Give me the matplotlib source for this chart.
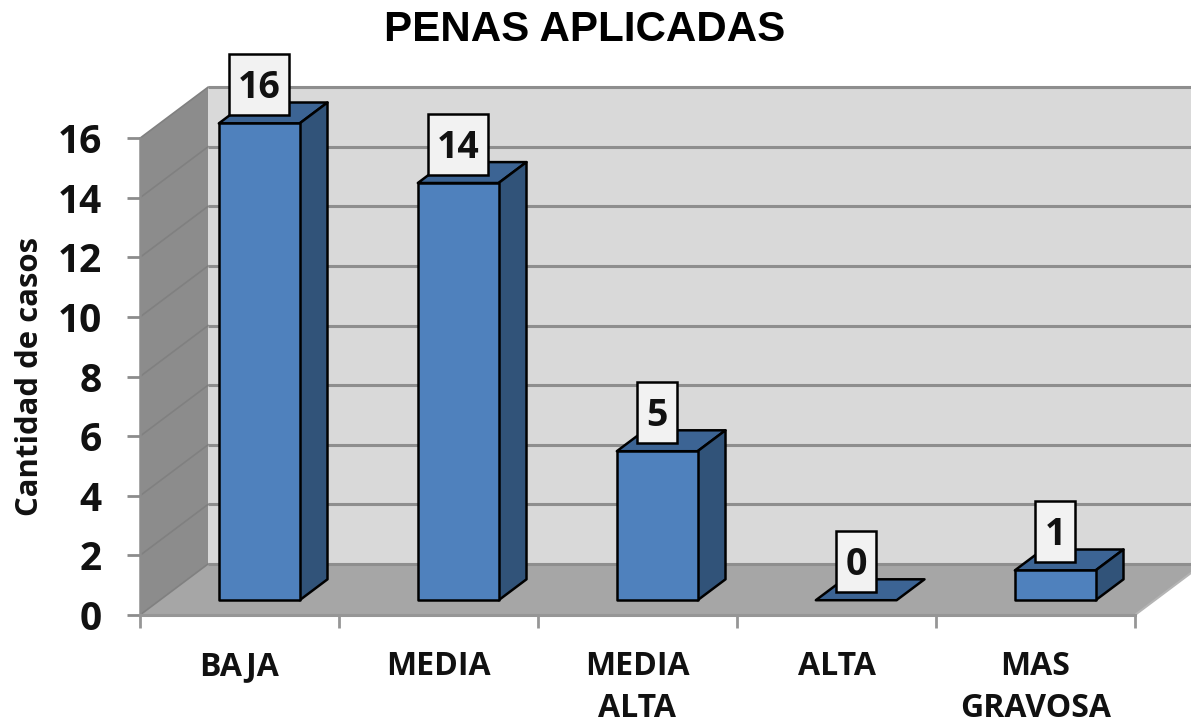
import matplotlib
matplotlib.use('Agg')
import matplotlib.pyplot as plt
from matplotlib.patches import Polygon, Rectangle

categories = ['BAJA', 'MEDIA', 'MEDIA\nALTA', 'ALTA', 'MAS\nGRAVOSA']
cases = [16, 14, 5, 0, 1]
y_ticks = [0, 2, 4, 6, 8, 10, 12, 14, 16]

LABEL_FONT = 'Open Sans'

# figure pixels per data unit, the axes fill the whole figure
PX_X = 199.0
PX_Y = 29.8
DEPTH_X = 68 / PX_X
DEPTH_Y = 51 / PX_Y


def project(x, y, d):
    # oblique view, d=0 front of the box and d=1 back wall
    return (x + d * DEPTH_X, y + d * DEPTH_Y)


def face(ax, points, color, edge='none', lw=0, z=1):
    ax.add_patch(Polygon([project(*p) for p in points], closed=True, facecolor=color,
                         edgecolor=edge, linewidth=lw, zorder=z, joinstyle='round'))


fig = plt.figure(figsize=(11.91, 7.23), dpi=100)
ax = fig.add_axes([0, 0, 1, 1])
ax.set_xlim(-140 / PX_X, (1191 - 140) / PX_X)
ax.set_ylim(-108 / PX_Y, 615 / PX_Y)
ax.patch.set_visible(False)

n = len(categories)
top = y_ticks[-1]

# walls and floor
face(ax, [(0, 0, 1), (n, 0, 1), (n, top, 1), (0, top, 1)], '#d9d9d9')
face(ax, [(0, 0, 0), (0, 0, 1), (0, top, 1), (0, top, 0)], '#8c8c8c')
face(ax, [(0, 0, 0), (n, 0, 0), (n, 0, 1), (0, 0, 1)], '#a6a6a6')

# grid on the back wall and the side wall
for v in y_ticks:
    xs, ys = zip(project(0, v, 1), project(n, v, 1))
    ax.plot(xs, ys, color='#8e8e8e', lw=2.2, zorder=1.5, solid_capstyle='butt')
    xs, ys = zip(project(0, v, 0), project(0, v, 1))
    ax.plot(xs, ys, color='#808080', lw=1.2, zorder=1.4)
xs, ys = zip(project(n, 0, 0), project(n, 0, 1))
ax.plot(xs, ys, color='#b4b4b4', lw=1.5, zorder=1.5)

# bars
half = 0.203
d0, d1 = 0.29, 0.70
for i, v in enumerate(cases):
    x0, x1 = i + 0.5 - half, i + 0.5 + half
    face(ax, [(x0, v, d0), (x1, v, d0), (x1, v, d1), (x0, v, d1)], '#3c6494', 'black', 1.8, 3)
    if v > 0:
        face(ax, [(x1, 0, d0), (x1, 0, d1), (x1, v, d1), (x1, v, d0)], '#315379', 'black', 1.8, 3)
        face(ax, [(x0, 0, d0), (x1, 0, d0), (x1, v, d0), (x0, v, d0)], '#4f81bd', 'black', 1.8, 3)

# value labels
for i, v in enumerate(cases):
    cx, cy = project(i + 0.5, v, d0)
    w = (60 if v >= 10 else 40) / PX_X
    h = 61 / PX_Y
    bottom = cy + 8 / PX_Y
    ax.add_patch(Rectangle((cx - w / 2, bottom), w, h, facecolor='#f2f2f2', edgecolor='black',
                           linewidth=1.8, zorder=4))
    ax.text(cx, bottom + h / 2 - 3 / PX_Y, str(v), ha='center', va='center', fontsize=27,
            fontweight='bold', family=LABEL_FONT, color='#111111', zorder=5)

# axes lines on the front edge of the box
for side in ['top', 'right']:
    ax.spines[side].set_visible(False)
ax.spines['left'].set_position(('data', 0))
ax.spines['bottom'].set_position(('data', 0))
ax.spines['left'].set_bounds(0, top)
ax.spines['bottom'].set_bounds(0, n)
ax.spines['left'].set_color('#8c8c8c')
ax.spines['bottom'].set_color('#969696')
ax.spines['left'].set_linewidth(1.8)
ax.spines['bottom'].set_linewidth(2.2)

ax.set_yticks(y_ticks)
ax.set_xticks(range(n + 1), labels=[''] * (n + 1))
ax.set_xticks([i + 0.5 for i in range(n)], labels=categories, minor=True)
ax.tick_params(axis='y', direction='out', length=9.5, width=2, color='#8c8c8c', pad=18,
               labelsize=28)
ax.tick_params(axis='x', which='major', direction='out', length=9, width=2, color='#969696')
ax.tick_params(axis='x', which='minor', length=0, pad=25, labelsize=23)
for label in ax.get_yticklabels() + ax.get_xticklabels(minor=True):
    label.set_family(LABEL_FONT)
    label.set_fontweight('bold')
    label.set_color('#111111')
for label in ax.get_xticklabels(minor=True):
    label.set_linespacing(1.36)

ax.set_ylabel('Cantidad de casos', fontsize=22.4, fontweight='bold', family=LABEL_FONT,
              color='#111111')
ax.yaxis.set_label_coords(45 / 1191, 1 - 377 / 723)

ax.text(585 / 1191, 1 - 30 / 723, 'PENAS APLICADAS', transform=ax.transAxes, ha='center',
        va='center', fontsize=30.3, fontweight='bold', family='Liberation Sans', color='black')

fig.savefig('out.png', dpi=100)
